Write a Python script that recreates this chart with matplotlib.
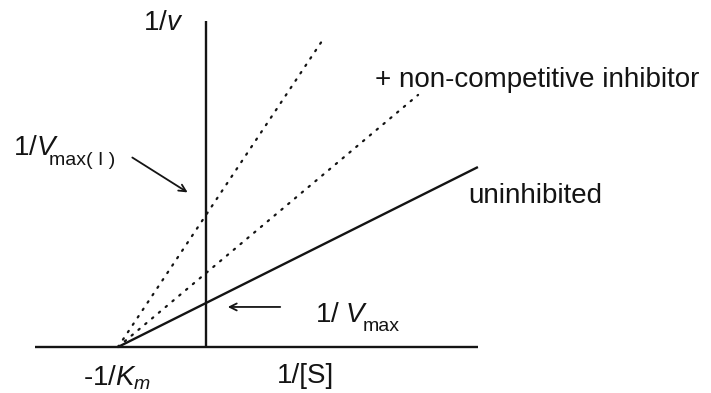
import numpy as np
import matplotlib
matplotlib.use("Agg")
import matplotlib.pyplot as plt

plt.rcParams["font.family"] = ["Liberation Sans", "DejaVu Sans"]
plt.rcParams["mathtext.fontset"] = "custom"
plt.rcParams["mathtext.rm"] = "Liberation Sans"
plt.rcParams["mathtext.it"] = "Liberation Sans:italic"

# Lineweaver-Burk plot: 1/v = (1/Vmax) * (1 + Km * 1/[S])
km = 1.0                                   # -1/Km sits at x = -1
series_names = ["uninhibited", "inhibitor (low)", "inhibitor (high)"]
inv_vmax = [1.0, 1.68, 3.0]                # y-intercepts 1/Vmax
x_end = [3.09, 2.41, 1.32]                 # last 1/[S] drawn for each line
line_styles = ["solid", "dotted", "dotted"]

x_axis_range = [-1.94, 3.09]
y_axis_top = 7.41

ink = "#141414"

fig = plt.figure(figsize=(7.11, 3.93), dpi=100)
ax = fig.add_axes([0, 0, 1, 1])
ax.set_xlim(-206 / 88, 505 / 88)
ax.set_ylim(-46 / 44, 347 / 44)
ax.axis("off")

# axes
ax.plot(x_axis_range, [0, 0], color=ink, lw=1.7, solid_capstyle="butt")
ax.plot([0, 0], [0, y_axis_top], color=ink, lw=1.7, solid_capstyle="butt")

# lines
for b, xe, ls in zip(inv_vmax, x_end, line_styles):
    xs = np.array([-1.0 / km, xe])
    ys = b * (1 + km * xs)
    if ls == "solid":
        ax.plot(xs, ys, color=ink, lw=1.7, solid_capstyle="butt")
    else:
        ax.plot(xs, ys, color=ink, lw=1.6, linestyle=(0, (0.7, 3.3)),
                dash_capstyle="round")

fs = 20
sub = 14
arrow = dict(arrowstyle="->,head_length=0.5,head_width=0.25", color=ink, lw=1.3)

ax.text(-0.489, 7.2, "1/$\\mathit{v}$", fontsize=fs, ha="center",
        va="baseline", color=ink)

# 1/Vmax(I) with its subscript set a little lower than the main line
ax.text(-2.193, 4.36, "1/$\\mathit{V}$", fontsize=fs, ha="left",
        va="baseline", color=ink)
ax.text(-1.78, 4.14, "max( I )", fontsize=sub, ha="left", va="baseline",
        color=ink)
ax.annotate("", xy=(-0.182, 3.48), xytext=(-0.864, 4.34), arrowprops=arrow)

ax.text(1.92, 5.91, "+ non-competitive inhibitor", fontsize=fs, ha="left",
        va="baseline", color=ink)
ax.text(2.977, 3.27, "uninhibited", fontsize=fs, ha="left", va="baseline",
        color=ink)

ax.text(1.239, 0.57, "1/ $\\mathit{V}$", fontsize=fs, ha="left",
        va="baseline", color=ink)
ax.text(1.785, 0.37, "max", fontsize=sub, ha="left", va="baseline", color=ink)
ax.annotate("", xy=(0.216, 0.91), xytext=(0.875, 0.91), arrowprops=arrow)

ax.text(-1.398, -0.864, "-1/$\\mathit{K}_{\\mathit{m}}$", fontsize=fs,
        ha="left", va="baseline", color=ink)
ax.text(0.807, -0.818, "1/[S]", fontsize=fs, ha="left", va="baseline",
        color=ink)

fig.savefig("out.png", dpi=100, facecolor="white")
